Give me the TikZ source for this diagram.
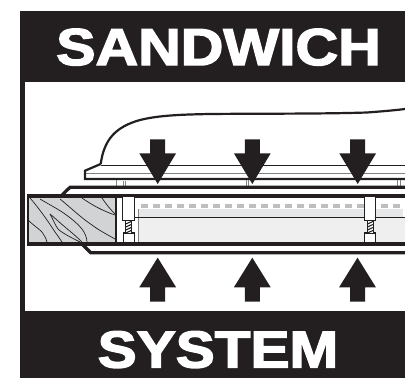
\documentclass[tikz,border=0pt]{standalone}
\usepackage{fontspec}
\usepackage{graphicx}
\setmainfont{Liberation Sans}[BoldFeatures={FakeBold=2.6}]
\definecolor{ink}{HTML}{231F20}
\definecolor{woodgray}{HTML}{D1D3D4}
\definecolor{panelA}{HTML}{E6E7E8}
\definecolor{panelB}{HTML}{EFEFEF}
\definecolor{dashgray}{HTML}{BCBEC0}
\definecolor{thingray}{HTML}{808285}
\tikzset{
  band/.style={fill=ink,draw=none},
  title/.style={text=white,font=\fontsize{52}{52}\selectfont\bfseries,inner sep=0pt,anchor=base},
  heavy/.style={draw=ink,line width=3.2pt},
  medium/.style={draw=ink,line width=2.2pt},
  thinline/.style={draw=ink,line width=1pt},
  grain/.style={draw=ink,line width=0.7pt},
  clipbox/.style={draw=ink,fill=white,line width=1.1pt},
  standoff/.style={draw=thingray,line width=0.9pt},
  bigarrow/.style={fill=ink,draw=none},
  downarrow/.pic={\path[bigarrow] (-7.5,139.3) -- (7.5,139.3) -- (7.5,153.3) -- (18.4,153.3) -- (0,184) -- (-18.4,153.3) -- (-7.5,153.3) -- cycle;},
  uparrow/.pic={\path[bigarrow] (-7.5,301.7) -- (7.5,301.7) -- (7.5,287.3) -- (18.4,287.3) -- (0,257.7) -- (-18.4,287.3) -- (-7.5,287.3) -- cycle;},
  spring/.pic={
    \path[fill=white] (-2.8,220.7) rectangle (2.8,233);
    \draw[ink,line width=0.7pt] (-2.8,220.7) -- (-2.8,233) (2.8,220.7) -- (2.8,233);
    \draw[ink,line width=1.1pt] (-2.6,224) -- (2.6,221.5) (-2.6,227) -- (2.6,224.5) (-2.6,230) -- (2.6,227.5) (-2.6,233) -- (2.6,230.5);
  }
}
\begin{document}
\begin{tikzpicture}[x=1pt,y=-1pt]
\useasboundingbox (0,0) rectangle (405,378);
\fill[white] (0,0) rectangle (405,378);
% frame
\path[band] (20,11) rectangle (405,82);
\path[band] (20,311) rectangle (405,378);
\path[band] (20,82) rectangle (25,311);
\node[title] (sandwich) at (218.5,65) {\scalebox{1.135}[1]{SANDWICH}};
\node[title] (system) at (218,367.5) {\scalebox{1.125}[1]{SYSTEM}};
% panels
\fill[panelA] (138,209) rectangle (403,218);
\fill[panelB] (139,218) rectangle (405,243);
\draw[dashgray,line width=3.2pt,dash pattern=on 7.2pt off 4.8pt] (141,206) -- (405,206);
\draw[thingray,line width=0.6pt] (138.7,209) -- (138.7,243);
\draw[ink,line width=1.5pt] (135,217.7) -- (405,217.7);
% dome and flange
\draw[medium] (100.7,164) .. controls (104,140) and (115,127) .. (140,120) .. controls (160,115) and (185,114.5) .. (210,114) .. controls (260,113.5) and (320,114) .. (367,112.5) .. controls (380,111.5) and (393,110.5) .. (405,109);
\draw[medium,miter limit=2] (100.7,164) -- (85,170.7) -- (85,179) -- (405,179);
\draw[thinline] (100.7,165) -- (405,165);
\draw[thingray,line width=0.9pt] (86,173.3) -- (405,173.3);
% standoffs
\draw[standoff] (116.7,180) -- (116.7,186);
\draw[standoff] (123,181) -- (123,186) (125,181) -- (125,186);
\draw[standoff] (246,180) -- (246,186) (248.8,180) -- (248.8,186);
\draw[standoff] (397,180) -- (397,186) (400,180) -- (400,186);
% wood
\fill[woodgray] (27,196) rectangle (115.5,243.5);
\draw[grain] (30,198) .. controls (38,207) and (48,221) .. (55,232) .. controls (58,236) and (60,239) .. (62,242);
\draw[grain] (40,199) .. controls (50,205) and (58,209) .. (65,214) .. controls (72,219) and (78,224) .. (82,229) .. controls (85,233) and (87,238) .. (87,242);
\draw[grain] (60,199) .. controls (70,207) and (80,217) .. (92,225) .. controls (100,231) and (108,235) .. (115,239);
\draw[grain] (82,198) .. controls (92,205) and (103,211) .. (115,215);
\draw[grain] (102,198) .. controls (106,204) and (110,209) .. (115,214);
\draw[grain] (28,220) .. controls (33,225) and (38,228) .. (42,232) .. controls (44,235) and (46,238) .. (47,242);
\draw[grain] (50,214) .. controls (53,219) and (55,225) .. (58,229) .. controls (62,233) and (72,238) .. (80,242);
\draw[grain] (50,214) .. controls (55,218) and (60,223) .. (65,227) .. controls (71,232) and (77,237) .. (82,242);
\draw[medium] (28,197) -- (28,243);
% plates
\draw[heavy] (61,196) -- (70,187.3) -- (405,187.3);
\draw[heavy] (27,196) -- (405,196);
\draw[heavy] (27,244) -- (405,244);
\draw[heavy] (82,244) -- (90.7,252.7) -- (405,252.7);
\draw[draw=ink,line width=2pt] (115.8,196) -- (115.8,244);
% clips left
\draw[clipbox] (122.7,196) rectangle (134.3,220.7);
\draw[clipbox] (123.3,233) rectangle (134.3,243);
\pic at (128.5,0) {spring};
% clips right
\draw[clipbox] (364.3,196) rectangle (375.7,220.7);
\draw[clipbox] (364.5,233) rectangle (375.7,243);
\pic at (370.2,0) {spring};
% arrows
\pic at (157.7,0) {downarrow};
\pic at (252.3,0) {downarrow};
\pic at (357.7,0) {downarrow};
\pic at (157.7,0) {uparrow};
\pic at (252.3,0) {uparrow};
\pic at (357.5,0) {uparrow};
\end{tikzpicture}
\end{document}
